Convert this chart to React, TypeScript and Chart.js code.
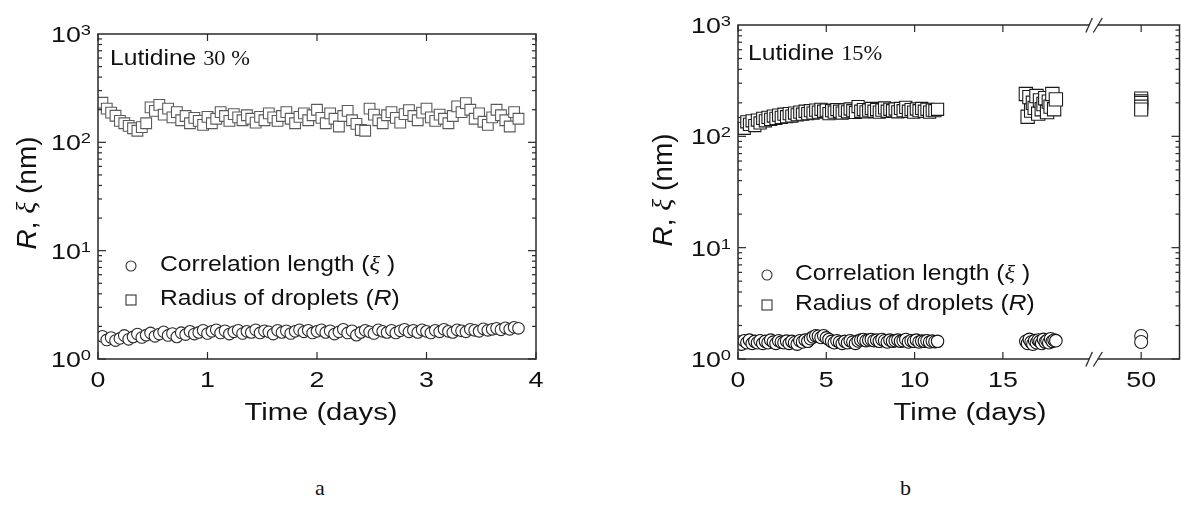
import React, { useEffect, useRef } from "react";
import { Chart, registerables } from "chart.js";
Chart.register(...registerables);

// ---------- Panel a: Lutidine 30 % ----------
const A_TIMES = [
  0.04, 0.08, 0.12, 0.16, 0.2, 0.24, 0.28, 0.32, 0.36, 0.4,
  0.44, 0.48, 0.52, 0.56, 0.6, 0.64, 0.68, 0.72, 0.76, 0.8,
  0.84, 0.88, 0.92, 0.96, 1.0, 1.04, 1.08, 1.12, 1.16, 1.2,
  1.24, 1.28, 1.32, 1.36, 1.4, 1.44, 1.48, 1.52, 1.56, 1.6,
  1.64, 1.68, 1.72, 1.76, 1.8, 1.84, 1.88, 1.92, 1.96, 2.0,
  2.04, 2.08, 2.12, 2.16, 2.2, 2.24, 2.28, 2.32, 2.36, 2.4,
  2.44, 2.48, 2.52, 2.56, 2.6, 2.64, 2.68, 2.72, 2.76, 2.8,
  2.84, 2.88, 2.92, 2.96, 3.0, 3.04, 3.08, 3.12, 3.16, 3.2,
  3.24, 3.28, 3.32, 3.36, 3.4, 3.44, 3.48, 3.52, 3.56, 3.6,
  3.64, 3.68, 3.72, 3.76, 3.8, 3.84,
];
const A_RADIUS = [
  232, 205, 188, 176, 158, 150, 142, 135, 128, 138,
  150, 210, 195, 222, 180, 205, 170, 190, 160, 175,
  150, 168, 158, 145, 172, 150, 165, 190, 175, 158,
  182, 170, 160, 178, 165, 152, 172, 160, 185, 170,
  158, 175, 190, 165, 150, 172, 185, 160, 178, 200,
  168, 150, 185, 165, 140, 175, 195, 160, 148, 130,
  128, 205, 180, 160, 150, 178, 190, 168, 152, 182,
  198, 175, 160, 188, 205, 170, 158, 180, 165, 150,
  175, 215, 190, 230, 200, 165, 185, 155, 145, 170,
  200, 178, 160, 140, 190, 165,
];
const A_XI = [
  1.62, 1.5, 1.58, 1.48, 1.55, 1.65, 1.52, 1.6, 1.7, 1.58,
  1.66, 1.74, 1.62, 1.7, 1.78, 1.65, 1.72, 1.6, 1.75, 1.68,
  1.8, 1.7, 1.76, 1.84, 1.72, 1.8, 1.86, 1.74, 1.82, 1.7,
  1.78, 1.84, 1.72, 1.8, 1.76, 1.86, 1.74, 1.82, 1.78, 1.7,
  1.84, 1.76, 1.82, 1.72, 1.8, 1.86, 1.78, 1.84, 1.74, 1.8,
  1.86, 1.76, 1.82, 1.7, 1.78, 1.88, 1.74, 1.82, 1.66, 1.76,
  1.84, 1.78, 1.72, 1.86, 1.8, 1.76, 1.84, 1.74, 1.82, 1.88,
  1.78, 1.84, 1.76, 1.86, 1.8, 1.74, 1.84, 1.78, 1.88, 1.8,
  1.76, 1.86, 1.82, 1.78, 1.88, 1.84, 1.8, 1.9, 1.84, 1.88,
  1.92, 1.86, 1.94, 1.88, 1.96, 1.92,
];
const A_X_TICKS = [0, 1, 2, 3, 4];
const A_X_TICK_LABELS = ["0", "1", "2", "3", "4"];

// ---------- Panel b: Lutidine 15% ----------
const B_TIMES = [
  0.05, 0.2, 0.35, 0.5, 0.65, 0.8, 0.95, 1.1, 1.25, 1.4,
  1.55, 1.7, 1.85, 2.0, 2.15, 2.3, 2.45, 2.6, 2.75, 2.9,
  3.05, 3.2, 3.35, 3.5, 3.65, 3.8, 3.95, 4.1, 4.25, 4.4,
  4.55, 4.7, 4.85, 5.0, 5.15, 5.3, 5.45, 5.6, 5.75, 5.9,
  6.05, 6.2, 6.35, 6.5, 6.65, 6.8, 6.95, 7.1, 7.25, 7.4,
  7.55, 7.7, 7.85, 8.0, 8.15, 8.3, 8.45, 8.6, 8.75, 8.9,
  9.05, 9.2, 9.35, 9.5, 9.65, 9.8, 9.95, 10.1, 10.25, 10.4,
  10.55, 10.7, 10.85, 11.0, 11.15, 11.3,
];
const B_RADIUS = [
  122, 130, 118, 135, 128, 138, 125, 140, 132, 145,
  138, 148, 142, 152, 145, 155, 148, 158, 150, 160,
  152, 162, 156, 165, 158, 168, 160, 170, 162, 172,
  165, 175, 168, 172, 160, 170, 165, 174, 168, 162,
  172, 166, 176, 170, 164, 185, 168, 174, 166, 172,
  178, 168, 174, 165, 172, 180, 168, 175, 170, 176,
  166, 178, 170, 182, 168, 174, 165, 176, 170, 178,
  168, 175, 165, 172, 170, 175,
];
const B_XI = [
  1.42, 1.36, 1.46, 1.4, 1.48, 1.38, 1.44, 1.4, 1.46, 1.38,
  1.44, 1.4, 1.48, 1.42, 1.38, 1.46, 1.42, 1.4, 1.45, 1.38,
  1.44, 1.4, 1.36, 1.46, 1.42, 1.48, 1.44, 1.52, 1.58, 1.62,
  1.6, 1.56, 1.62, 1.55, 1.5, 1.44, 1.4, 1.46, 1.42, 1.38,
  1.44, 1.4, 1.46, 1.42, 1.38, 1.45, 1.48, 1.5, 1.46, 1.48,
  1.5, 1.46, 1.48, 1.44, 1.5, 1.46, 1.42, 1.48, 1.44, 1.46,
  1.48, 1.44, 1.46, 1.5, 1.42, 1.46, 1.44, 1.48, 1.42, 1.45,
  1.44, 1.46, 1.42, 1.45, 1.43, 1.44,
];
const B_CLUSTER_TIMES = [
  16.3, 16.4, 16.5, 16.6, 16.7, 16.8, 16.9, 17.0, 17.1,
  17.2, 17.3, 17.4, 17.5, 17.6, 17.7, 17.8, 17.9, 18.0,
];
const B_CLUSTER_RADIUS = [
  240, 150, 225, 170, 200, 180, 230, 160, 210,
  175, 195, 220, 165, 205, 185, 240, 175, 215,
];
const B_CLUSTER_XI = [
  1.44, 1.38, 1.5, 1.42, 1.36, 1.46, 1.4, 1.48, 1.44,
  1.38, 1.5, 1.42, 1.46, 1.4, 1.52, 1.44, 1.48, 1.46,
];
const B_FINAL_TIMES = [50, 50, 50, 50, 50];
const B_FINAL_RADIUS = [219, 206, 199, 185, 174];
const B_FINAL_XI_TIMES = [50, 50];
const B_FINAL_XI = [1.61, 1.42];
const B_X_TICKS = [0, 5, 10, 15, 50];
const B_X_TICK_LABELS = ["0", "5", "10", "15", "50"];
const B_BREAK_SHIFT = 27.17; // days removed by the axis break
const B_BREAK_AT = 20.15; // axis position of the break marks

const Y_EXPONENTS = [0, 1, 2, 3];

const SANS = '"Liberation Sans", Arial, Helvetica, sans-serif';
const SERIF = '"Liberation Serif", "Times New Roman", Times, serif';
const INK = "#111";

type Run = { text: string; font: string };

function drawRuns(
  ctx: CanvasRenderingContext2D,
  runs: Run[],
  x: number,
  y: number,
  align: "left" | "center" | "right",
  sx: number,
  baseline: CanvasTextBaseline = "alphabetic"
) {
  ctx.save();
  let w = 0;
  for (const r of runs) {
    ctx.font = r.font;
    w += ctx.measureText(r.text).width;
  }
  const start = align === "left" ? 0 : align === "center" ? -w / 2 : -w;
  ctx.translate(x, y);
  ctx.scale(sx, 1);
  ctx.textAlign = "left";
  ctx.textBaseline = baseline;
  ctx.fillStyle = INK;
  let cx = start;
  for (const r of runs) {
    ctx.font = r.font;
    ctx.fillText(r.text, cx, 0);
    cx += ctx.measureText(r.text).width;
  }
  ctx.restore();
}

function seg(ctx: CanvasRenderingContext2D, x1: number, y1: number, x2: number, y2: number) {
  ctx.beginPath();
  ctx.moveTo(x1, y1);
  ctx.lineTo(x2, y2);
  ctx.stroke();
}

type PanelCfg = {
  canvasLeft: number;
  width: number;
  height: number;
  padTop: number;
  padRight: number;
  yWidth: number;
  xHeight: number;
  xMin: number;
  xMax: number;
  xTicks: number[];
  xTickLabels: string[];
  mapX: (t: number) => number;
  xTitleX: number;
  yTitle: { x: number; y: number };
  legend: { symX: number; textX: number; base1: number; base2: number; r: number };
  label: { x: number; base: number; pct: string };
  breakAt?: number;
};

function makeDecor(p: PanelCfg) {
  const off = p.canvasLeft;
  return {
    id: "decor",
    afterDraw(chart: any) {
      const ctx: CanvasRenderingContext2D = chart.ctx;
      const a = chart.chartArea;
      const xs = chart.scales.x;
      const ys = chart.scales.y;
      ctx.save();
      ctx.strokeStyle = "#2a2a2a";
      ctx.lineWidth = 1.5;
      ctx.strokeRect(a.left, a.top, a.right - a.left, a.bottom - a.top);

      // y ticks (log, inward, mirrored)
      ctx.lineWidth = 1.2;
      for (let e = 0; e < 3; e++) {
        for (let m = 1; m < 10; m++) {
          const py = ys.getPixelForValue(m * Math.pow(10, e));
          const len = m === 1 ? 8 : 4;
          seg(ctx, a.left, py, a.left + len, py);
          seg(ctx, a.right, py, a.right - len, py);
        }
      }
      // x ticks
      p.xTicks.forEach((t) => {
        const px = xs.getPixelForValue(p.mapX(t));
        seg(ctx, px, a.bottom, px, a.bottom - 7);
        seg(ctx, px, a.top, px, a.top + 7);
      });

      // axis break
      if (p.breakAt !== undefined) {
        const xb = xs.getPixelForValue(p.breakAt);
        for (const yy of [a.top, a.bottom]) {
          ctx.fillStyle = "#fff";
          ctx.fillRect(xb - 4.5, yy - 2, 8.5, 4);
          ctx.strokeStyle = "#2a2a2a";
          ctx.lineWidth = 1.3;
          seg(ctx, xb - 8, yy + 7.5, xb - 1.5, yy - 7);
          seg(ctx, xb - 0.5, yy + 7.5, xb + 8.5, yy - 7);
        }
      }

      // y tick labels 10^n
      const sxT = 1.22;
      Y_EXPONENTS.forEach((e) => {
        const py = ys.getPixelForValue(Math.pow(10, e));
        ctx.font = `22px ${SANS}`;
        const wb = ctx.measureText("10").width * sxT;
        ctx.font = `15px ${SANS}`;
        const ws = ctx.measureText(String(e)).width * sxT;
        const start = a.left - 7 - wb - ws;
        drawRuns(ctx, [{ text: "10", font: `22px ${SANS}` }], start, py + 8, "left", sxT);
        drawRuns(ctx, [{ text: String(e), font: `15px ${SANS}` }], start + wb, py + 1, "left", sxT);
      });
      // x tick labels
      p.xTicks.forEach((t, i) => {
        const px = xs.getPixelForValue(p.mapX(t));
        drawRuns(ctx, [{ text: p.xTickLabels[i], font: `22px ${SANS}` }], px, a.bottom + 28, "center", sxT);
      });

      // x title
      drawRuns(ctx, [{ text: "Time (days)", font: `23px ${SANS}` }], p.xTitleX - off, 420, "center", 1.27);

      // y title (rotated)
      ctx.save();
      ctx.translate(p.yTitle.x - off, p.yTitle.y);
      ctx.rotate(-Math.PI / 2);
      drawRuns(
        ctx,
        [
          { text: "R", font: `italic 28px ${SANS}` },
          { text: ", ", font: `28px ${SANS}` },
          { text: "ξ", font: `italic 28px ${SERIF}` },
          { text: " (nm)", font: `28px ${SANS}` },
        ],
        0,
        0,
        "center",
        1.0,
        "middle"
      );
      ctx.restore();

      // legend
      const L = p.legend;
      const sxL = 1.12;
      ctx.strokeStyle = "#333";
      ctx.lineWidth = 1.1;
      ctx.beginPath();
      ctx.arc(L.symX - off, L.base1 - 5, L.r, 0, Math.PI * 2);
      ctx.stroke();
      ctx.strokeRect(L.symX - off - L.r, L.base2 - 5 - L.r, 2 * L.r, 2 * L.r);
      drawRuns(
        ctx,
        [
          { text: "Correlation length (", font: `22px ${SANS}` },
          { text: "ξ", font: `italic 22px ${SERIF}` },
          { text: " )", font: `22px ${SANS}` },
        ],
        L.textX - off,
        L.base1,
        "left",
        sxL
      );
      drawRuns(
        ctx,
        [
          { text: "Radius of droplets (", font: `22px ${SANS}` },
          { text: "R", font: `italic 22px ${SANS}` },
          { text: ")", font: `22px ${SANS}` },
        ],
        L.textX - off,
        L.base2,
        "left",
        sxL
      );

      // annotation
      drawRuns(
        ctx,
        [
          { text: "Lutidine ", font: `22px ${SANS}` },
          { text: p.label.pct, font: `20px ${SERIF}` },
        ],
        p.label.x - off,
        p.label.base,
        "left",
        1.12
      );
      ctx.restore();
    },
  };
}

function pts(times: number[], vals: number[], mapX: (t: number) => number) {
  return times.map((t, i) => ({ x: mapX(t), y: vals[i] }));
}

const idX = (t: number) => t;
const mapB = (t: number) => (t > 30 ? t - B_BREAK_SHIFT : t);

function squareDs(data: any[], r: number, color: string) {
  return {
    data,
    pointStyle: "rect",
    pointRadius: r,
    pointBorderColor: color,
    pointBackgroundColor: "#fff",
    pointBorderWidth: 1.1,
  };
}
function circleDs(data: any[], r: number, color: string) {
  return {
    data,
    pointStyle: "circle",
    pointRadius: r,
    pointBorderColor: color,
    pointBackgroundColor: "#fff",
    pointBorderWidth: 1.1,
  };
}

const PANEL_A: PanelCfg = {
  canvasLeft: 0,
  width: 560,
  height: 440,
  padTop: 34,
  padRight: 24,
  yWidth: 98,
  xHeight: 81,
  xMin: 0,
  xMax: 4,
  xTicks: A_X_TICKS,
  xTickLabels: A_X_TICK_LABELS,
  mapX: idX,
  xTitleX: 321,
  yTitle: { x: 28, y: 193 },
  legend: { symX: 131, textX: 160, base1: 271, base2: 305, r: 5 },
  label: { x: 110, base: 65, pct: "30 %" },
};

const PANEL_B: PanelCfg = {
  canvasLeft: 590,
  width: 600,
  height: 440,
  padTop: 25,
  padRight: 5,
  yWidth: 148,
  xHeight: 81,
  xMin: 0,
  xMax: 25,
  xTicks: B_X_TICKS,
  xTickLabels: B_X_TICK_LABELS,
  mapX: mapB,
  xTitleX: 970,
  yTitle: { x: 664, y: 190 },
  legend: { symX: 767, textX: 795, base1: 280, base2: 310, r: 5 },
  label: { x: 748, base: 60, pct: "15%" },
  breakAt: B_BREAK_AT,
};

function buildDatasets(which: "a" | "b") {
  if (which === "a") {
    return [
      circleDs(pts(A_TIMES, A_XI, idX), 5.8, "#2b2b2b"),
      squareDs(pts(A_TIMES, A_RADIUS, idX), 7.6, "#5a5a5a"),
    ];
  }
  return [
    circleDs(pts(B_TIMES, B_XI, mapB), 6.2, "#111"),
    circleDs(pts(B_CLUSTER_TIMES, B_CLUSTER_XI, mapB), 6.3, "#111"),
    circleDs(pts(B_FINAL_XI_TIMES, B_FINAL_XI, mapB), 6.5, "#222"),
    squareDs(pts(B_TIMES, B_RADIUS, mapB), 8.6, "#1a1a1a"),
    squareDs(pts(B_CLUSTER_TIMES, B_CLUSTER_RADIUS, mapB), 9.4, "#1a1a1a"),
    squareDs(pts(B_FINAL_TIMES, B_FINAL_RADIUS, mapB), 9.2, "#222"),
  ];
}

function Panel({ cfg, which }: { cfg: PanelCfg; which: "a" | "b" }) {
  const ref = useRef<HTMLCanvasElement | null>(null);
  useEffect(() => {
    if (!ref.current) return;
    const chart = new Chart(ref.current, {
      type: "scatter",
      data: { datasets: buildDatasets(which) as any },
      options: {
        animation: false,
        responsive: false,
        events: [],
        layout: { padding: { left: 0, right: cfg.padRight, top: cfg.padTop, bottom: 0 } },
        plugins: { legend: { display: false }, tooltip: { enabled: false } },
        scales: {
          x: {
            type: "linear",
            min: cfg.xMin,
            max: cfg.xMax,
            ticks: { display: false },
            grid: { display: false, drawTicks: false },
            border: { display: false },
            afterFit: (s: any) => {
              s.height = cfg.xHeight;
            },
          },
          y: {
            type: "logarithmic",
            min: 1,
            max: 1000,
            ticks: { display: false },
            grid: { display: false, drawTicks: false },
            border: { display: false },
            afterFit: (s: any) => {
              s.width = cfg.yWidth;
            },
          },
        },
      } as any,
      plugins: [makeDecor(cfg)],
    });
    return () => chart.destroy();
  }, []);
  return (
    <canvas
      ref={ref}
      width={cfg.width}
      height={cfg.height}
      style={{ position: "absolute", left: cfg.canvasLeft, top: 0, width: cfg.width, height: cfg.height }}
    />
  );
}

export default function App() {
  const cap: React.CSSProperties = {
    position: "absolute",
    top: 477,
    font: `22px ${SERIF}`,
    lineHeight: 1,
    color: INK,
  };
  return (
    <div
      style={{
        position: "absolute",
        left: 0,
        top: 0,
        width: 1182,
        height: 513,
        overflow: "hidden",
        background: "#fff",
      }}
    >
      <Panel cfg={PANEL_A} which="a" />
      <Panel cfg={PANEL_B} which="b" />
      <div style={{ ...cap, left: 315 }}>a</div>
      <div style={{ ...cap, left: 900 }}>b</div>
    </div>
  );
}
